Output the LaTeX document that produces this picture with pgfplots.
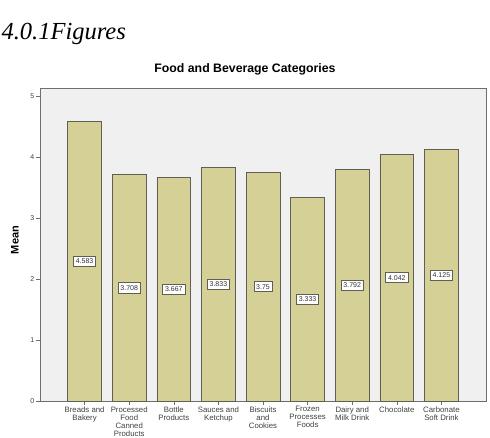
\documentclass[border=0pt]{standalone}
\usepackage{fontspec}
\setmainfont{Liberation Sans}
\newfontfamily\headfont{Liberation Serif}
\usepackage{pgfplots}
\usepackage{pgfplotstable}
\pgfplotsset{compat=1.18}

\definecolor{barfill}{RGB}{212,208,150}
\definecolor{plotbg}{RGB}{240,240,240}
\definecolor{baredge}{RGB}{95,95,85}
\definecolor{axisgray}{RGB}{110,110,110}

% mean score per category
\pgfplotstableread{
x v
0 4.583
1 3.708
2 3.667
3 3.833
4 3.75
5 3.333
6 3.792
7 4.042
8 4.125
}\means

\begin{document}
\begin{tikzpicture}[x=1pt,y=1pt]
\begin{axis}[
  at={(40pt,37pt)}, anchor=south west,
  scale only axis, width=446pt, height=313pt,
  xmin=-1, xmax=9, ymin=0, ymax=5.13,
  axis background/.style={fill=plotbg},
  axis line style={axisgray, line width=0.8pt},
  tick style={axisgray, line width=0.6pt},
  tick align=outside, major tick length=4pt,
  xtick pos=bottom, ytick pos=left,
  xtick={0,...,8}, ytick={0,...,5},
  xticklabels={Breads and\\Bakery, Processed\\Food\\Canned\\Products, Bottle\\Products, Sauces and\\Ketchup, Biscuits\\and\\Cookies, Frozen\\Processes\\Foods, Dairy and\\Milk Drink, Chocolate, Carbonate\\Soft Drink},
  xticklabel style={align=center, font=\fontsize{7.8}{8}\selectfont, text=black!75, inner sep=1.2pt},
  yticklabel style={font=\fontsize{7}{8}\selectfont, text=black!75, inner sep=1.5pt},
  /pgf/number format/assume math mode=true,
  clip=false,
]
\addplot[ybar, bar width=0.76, fill=barfill, draw=baredge, line width=0.6pt] table[x=x, y=v] {\means};
\addplot[draw=none, mark=none,
  point meta=explicit,
  nodes near coords={\pgfmathprintnumber[fixed, precision=3]{\pgfplotspointmeta}},
  nodes near coords align={center},
  every node near coord/.style={anchor=center, fill=white, draw=baredge, line width=0.6pt, inner xsep=2.3pt, inner ysep=2.6pt, font=\fontsize{7}{8}\selectfont, text=black!80},
] table[x=x, y expr=\thisrow{v}/2, meta=v] {\means};
\end{axis}
\node[anchor=west, font=\headfont\itshape\fontsize{24.5}{26}\selectfont] at (-2,404) {4.0.1Figures};
\node[font=\bfseries\fontsize{12.3}{13}\selectfont] at (245,369) {Food and Beverage Categories};
\node[rotate=90, font=\bfseries\fontsize{11}{12}\selectfont] at (15,198) {Mean};
\pgfresetboundingbox
\path (0,0) rectangle (490,438);
\end{tikzpicture}
\end{document}
